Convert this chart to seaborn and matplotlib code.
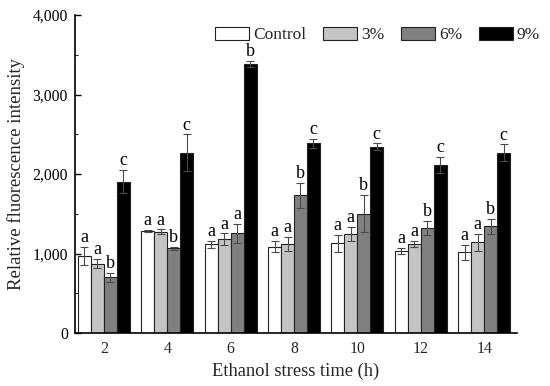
import numpy as np
import pandas as pd
import matplotlib
matplotlib.use("Agg")
import matplotlib.pyplot as plt
import seaborn as sns
from matplotlib.ticker import FuncFormatter, MultipleLocator

times = ["2", "4", "6", "8", "10", "12", "14"]
groups = ["Control", "3%", "6%", "9%"]
control = [970, 1283, 1115, 1086, 1128, 1031, 1015]
c3 = [875, 1274, 1178, 1119, 1245, 1124, 1141]
c6 = [700, 1069, 1254, 1732, 1501, 1321, 1342]
c9 = [1903, 2268, 3388, 2386, 2344, 2117, 2268]
err_control = [110, 15, 40, 70, 105, 42, 92]
err_c3 = [60, 30, 75, 90, 92, 37, 105]
err_c6 = [60, 20, 115, 160, 235, 92, 92]
err_c9 = [145, 230, 40, 55, 42, 100, 105]
letters_control = ["a", "a", "a", "a", "a", "a", "a"]
letters_c3 = ["a", "a", "a", "a", "a", "a", "a"]
letters_c6 = ["b", "b", "a", "b", "b", "b", "b"]
letters_c9 = ["c", "c", "b", "c", "c", "c", "c"]

vals = [control, c3, c6, c9]
errs = [err_control, err_c3, err_c6, err_c9]
lets = [letters_control, letters_c3, letters_c6, letters_c9]
rows = []
for g, v in zip(groups, vals):
    for t, y in zip(times, v):
        rows.append({"time": t, "group": g, "value": y})
df = pd.DataFrame(rows)

sns.set_theme(style="ticks")
plt.rcParams["font.family"] = ["Liberation Serif", "DejaVu Serif"]

fig = plt.figure(figsize=(5.5, 3.86), dpi=100)
ax = fig.add_axes([0.136, 0.137, 0.804, 0.824])
palette = {"Control": "#ffffff", "3%": "#c4c4c4", "6%": "#808080", "9%": "#000000"}
sns.barplot(data=df, x="time", y="value", hue="group", order=times, hue_order=groups,
            palette=palette, width=0.82, edgecolor="#222222", linewidth=0.8,
            errorbar=None, ax=ax, saturation=1)

bar_conts = list(ax.containers)[:4]
for gi, cont in enumerate(bar_conts):
    for ti, bar in enumerate(cont.patches):
        xc = bar.get_x() + bar.get_width() / 2
        h = bar.get_height()
        e = errs[gi][ti]
        ax.errorbar(xc, h, yerr=e, fmt="none", ecolor="#4a4a4a", elinewidth=0.8,
                    capsize=3, capthick=0.8, zorder=5)
        ax.text(xc, h + e + 10, lets[gi][ti], ha="center", va="bottom",
                fontsize=13, color="black")

ax.set_xlim(-0.46, 6.52)
ax.set_ylim(0, 4000)
ax.yaxis.set_major_locator(MultipleLocator(1000))
ax.yaxis.set_minor_locator(MultipleLocator(500))
ax.yaxis.set_major_formatter(FuncFormatter(lambda v, p: f"{int(v):,}"))
ax.tick_params(axis="y", direction="in", length=4, width=1, labelsize=11.3, colors="black", pad=5)
ax.tick_params(axis="y", which="minor", direction="in", length=2.5, width=0.8)
ax.tick_params(axis="x", length=0, labelsize=11.3, pad=6)
ax.set_xlabel("Ethanol stress time (h)", fontsize=13.3, labelpad=4)
ax.set_ylabel("Relative fluorescence intensity", fontsize=13.5, labelpad=5)
for s in ["top", "right"]:
    ax.spines[s].set_visible(False)
for s in ["left", "bottom"]:
    ax.spines[s].set_linewidth(1.2)
    ax.spines[s].set_color("black")

leg = ax.legend(ncol=4, frameon=False, loc="upper left",
                bbox_to_anchor=(215 / 550, 1 - 27 / 386), bbox_transform=fig.transFigure,
                borderpad=0, borderaxespad=0,
                fontsize=12.5, handlelength=1.95, handleheight=0.75, handletextpad=0.25,
                columnspacing=0.95)
for p in leg.get_patches():
    p.set_edgecolor("#222222")
    p.set_linewidth(0.8)

fig.savefig("out.png", dpi=100)
